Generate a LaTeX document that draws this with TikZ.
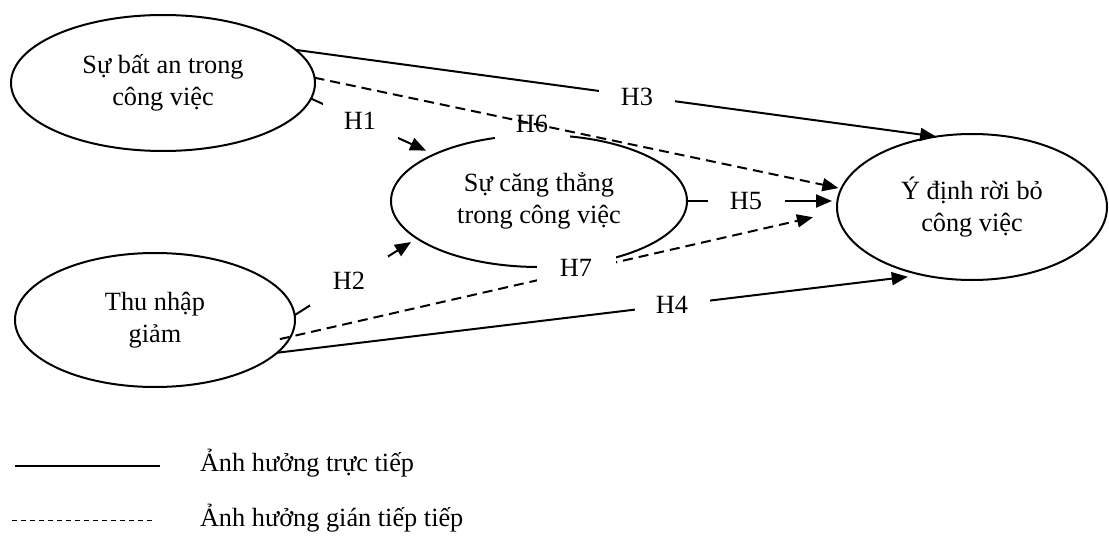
\documentclass[tikz,border=0pt]{standalone}
\usepackage{fontspec}
\setmainfont{Liberation Serif}
\usetikzlibrary{shapes.geometric,arrows.meta,calc}
\begin{document}
\begin{tikzpicture}[x=1pt,y=-1pt,
  font=\fontsize{26.3}{32.5}\selectfont,
  every node/.style={inner sep=0pt, outer sep=0pt},
  oval/.style={ellipse, draw, line width=2pt, align=center, fill=white},
  conn/.style={line width=2pt, -{Triangle[length=16pt,width=13pt]}},
  indirect/.style={conn, dash pattern=on 10pt off 6pt},
  lbl/.style={fill=white, minimum width=76pt, minimum height=36pt}
]
\useasboundingbox (0,0) rectangle (1109,551);

% constructs
\node[oval, minimum width=304pt, minimum height=136pt] (e1) at (163,83) {Sự bất an trong\\công việc};
\node[oval, minimum width=296pt, minimum height=132pt] (e2) at (539,201) {Sự căng thẳng\\trong công việc};
\node[oval, minimum width=280pt, minimum height=134pt] (e3) at (155,320) {Thu nhập\\giảm};
\node[oval, minimum width=270pt, minimum height=146pt] (e4) at (972,207) {Ý định rời bỏ\\công việc};

% connectors under their labels
\draw[conn] (e1.14) -- (e4.117);                          % H3
\draw[conn, shorten >=15pt] (e3.-15) -- (e4.234);          % H4
\draw[conn, shorten >=9pt] (e1.-6) -- (e2.156);            % H1
\draw[conn, shorten >=7pt] (e3.2) -- (e2.197);             % H2
\draw[conn, shorten >=5pt] (e2.east) -- (e2.east -| e4.west); % H5
\draw[indirect, shorten <=-11pt, shorten >=25pt] (e3.-7) -- (e4.182); % H7

% labels
\node[lbl, minimum width=75pt, minimum height=38pt] (l1) at (360,121) {H1};
\node[lbl, minimum width=78pt, minimum height=50pt] (l2) at (349,281) {H2};
\node[lbl] (l3) at (637,97) {H3};
\node[lbl, minimum width=75pt] (l4) at (672,305) {H4};
\node[lbl, minimum width=77pt] (l5) at (746,201) {H5};
\node[lbl, minimum width=75pt] (l6) at (532,124) {H6};
\node[lbl, minimum width=79pt, minimum height=34pt] (l7) at (576,268) {H7};

% H6 drawn over its label
\draw[indirect, shorten >=3pt] (e1.2) -- (e4.172);

% legend
\coordinate (s1a) at (15,466);
\coordinate (s1b) at (160,466);
\coordinate (s2a) at (12,520);
\coordinate (s2b) at (155,520);
\draw[line width=2pt] (s1a) -- (s1b);
\draw[line width=1pt, dash pattern=on 5pt off 4pt] (s2a) -- (s2b);
\node[anchor=west] (t1) at (200,463) {Ảnh hưởng trực tiếp};
\node[anchor=west] (t2) at (200,518) {Ảnh hưởng gián tiếp tiếp};
\end{tikzpicture}
\end{document}
